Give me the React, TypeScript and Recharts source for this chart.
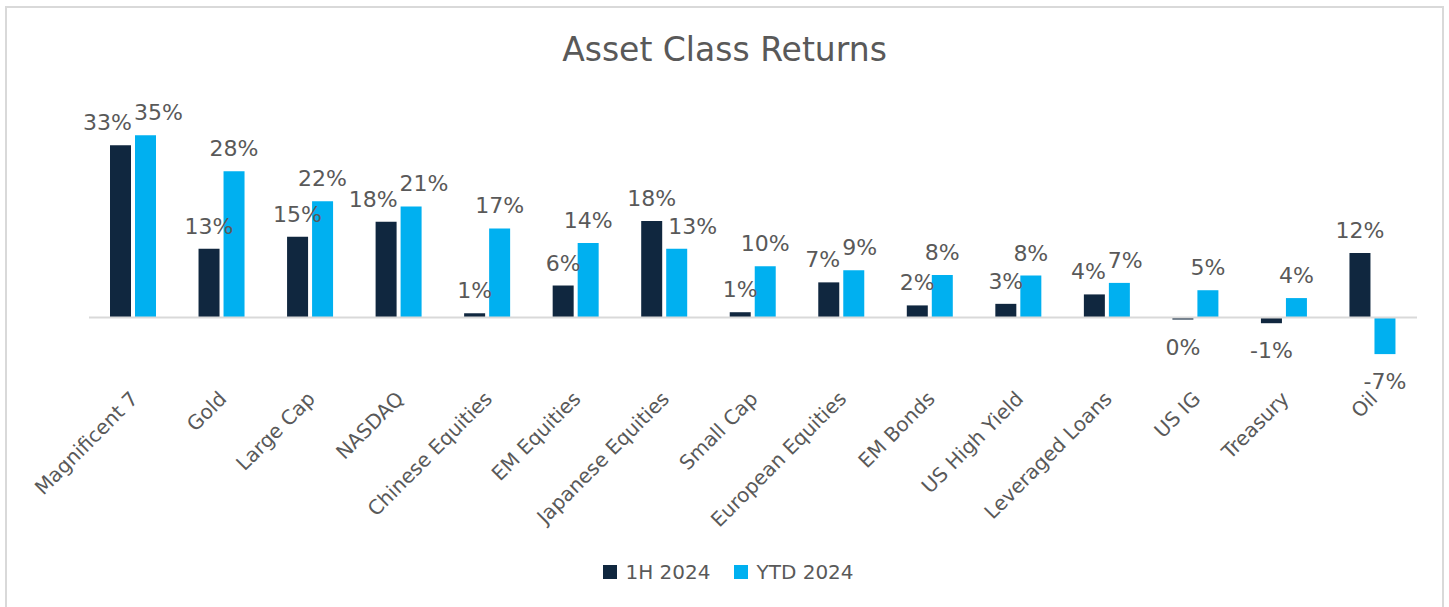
import React from "react";
import { BarChart, Bar, XAxis, YAxis, ReferenceLine, LabelList, Legend } from "recharts";

const categories = [
  "Magnificent 7", "Gold", "Large Cap", "NASDAQ", "Chinese Equities", "EM Equities",
  "Japanese Equities", "Small Cap", "European Equities", "EM Bonds", "US High Yield",
  "Leveraged Loans", "US IG", "Treasury", "Oil",
];
const h1Returns = [32.9, 13.1, 15.4, 18.3, 0.8, 6.1, 18.4, 1.0, 6.7, 2.3, 2.6, 4.4, -0.4, -1.1, 12.3];
const ytdReturns = [34.8, 27.9, 22.2, 21.2, 17.0, 14.2, 13.1, 9.8, 9.0, 8.1, 8.0, 6.6, 5.2, 3.7, -7.0];

const data = categories.map((name, i) => ({ name, h1: h1Returns[i], ytd: ytdReturns[i] }));

const FONT = "'DejaVu Sans', sans-serif";
const GREY = "#595959";
const NAVY = "#10273f";
const CYAN = "#00b0f0";
const LABEL_SIZE = 22;

const fmt = (v: number) => `${Math.round(v)}%`;
// rough text width for DejaVu Sans
const textWidth = (s: string) =>
  s.split("").reduce((w, c) => w + (c === "%" ? 0.95 : c === "-" ? 0.36 : 0.636), 0) * LABEL_SIZE;

function makeLabel(series: "h1" | "ytd") {
  return function ValueLabel(props: any) {
    const { x, y, width, height, value, index } = props;
    const top = Math.min(y, y + height);
    const bottom = Math.max(y, y + height);
    const cx = x + width / 2;
    const ty = value >= 0 ? top - 15 : bottom + 35;

    let dx = 0;
    const other = series === "h1" ? ytdReturns[index] : h1Returns[index];
    const pxPer = value !== 0 ? Math.abs(height / value) : 5.2;
    const w = textWidth(fmt(value));
    if (value >= 0 && other >= 0 && Math.abs(value - other) * pxPer < 22) {
      // pair of labels at nearly the same height: push them apart
      const need = (w + textWidth(fmt(other))) / 2 + 2;
      const shift = Math.max(0, need - (width + 4)) / 2;
      dx = series === "h1" ? -shift : shift;
    } else if (series === "ytd" && value >= 0 && (other - value) * pxPer > 15) {
      // taller dark bar next to it: keep the label clear of that bar
      dx = Math.max(0, w / 2 - width / 2 + 2);
    }
    return (
      <text x={cx + dx} y={ty} textAnchor="middle" fontFamily={FONT} fontSize={LABEL_SIZE} fill={GREY}>
        {fmt(value)}
      </text>
    );
  };
}
const H1Label = makeLabel("h1");
const YtdLabel = makeLabel("ytd");

function CategoryTick(props: any) {
  const { x, y, payload } = props;
  const ax = x + 6;
  const ay = y - 4;
  return (
    <text
      x={ax}
      y={ay}
      transform={`rotate(-45, ${ax}, ${ay})`}
      textAnchor="end"
      fontFamily={FONT}
      fontSize={20}
      fill={GREY}
    >
      {payload.value}
    </text>
  );
}

function LegendBox() {
  const item = (color: string, label: string) => (
    <span style={{ display: "inline-flex", alignItems: "center", margin: "0 12px" }}>
      <span style={{ width: 14, height: 14, background: color, display: "inline-block", marginRight: 8 }} />
      <span style={{ fontFamily: FONT, fontSize: 20, color: GREY }}>{label}</span>
    </span>
  );
  return (
    <div style={{ height: 40, display: "flex", justifyContent: "center", alignItems: "center", paddingLeft: 8 }}>
      {item(NAVY, "1H 2024")}
      {item(CYAN, "YTD 2024")}
    </div>
  );
}

export default function App() {
  return (
    <div style={{ position: "absolute", left: 0, top: 0, width: 1449, height: 607, overflow: "hidden", background: "#fff" }}>
      <div
        style={{
          position: "absolute", left: 5, top: 6, width: 1439, height: 640,
          border: "2px solid #d9d9d9", boxSizing: "border-box",
        }}
      />
      <div
        style={{
          position: "absolute", left: 0, width: 1449, top: 30, textAlign: "center",
          fontFamily: FONT, fontSize: 33, color: GREY, lineHeight: "40px",
        }}
      >
        Asset Class Returns
      </div>
      <div style={{ position: "absolute", left: 0, top: 0 }}>
        <BarChart
          width={1449}
          height={607}
          data={data}
          margin={{ top: 108, right: 32, left: 89, bottom: 15 }}
          barGap={4}
          barSize={21}
        >
          <XAxis dataKey="name" axisLine={false} tickLine={false} interval={0} height={156} tick={<CategoryTick />} />
          <YAxis hide domain={[-15, 40]} allowDataOverflow />
          <ReferenceLine y={0} stroke="#d9d9d9" strokeWidth={2} />
          <Legend
            verticalAlign="bottom"
            wrapperStyle={{ left: 0, width: 1449 }}
            content={() => <LegendBox />}
          />
          <Bar dataKey="h1" name="1H 2024" fill={NAVY} isAnimationActive={false}>
            <LabelList dataKey="h1" content={<H1Label />} />
          </Bar>
          <Bar dataKey="ytd" name="YTD 2024" fill={CYAN} isAnimationActive={false}>
            <LabelList dataKey="ytd" content={<YtdLabel />} />
          </Bar>
        </BarChart>
      </div>
    </div>
  );
}
